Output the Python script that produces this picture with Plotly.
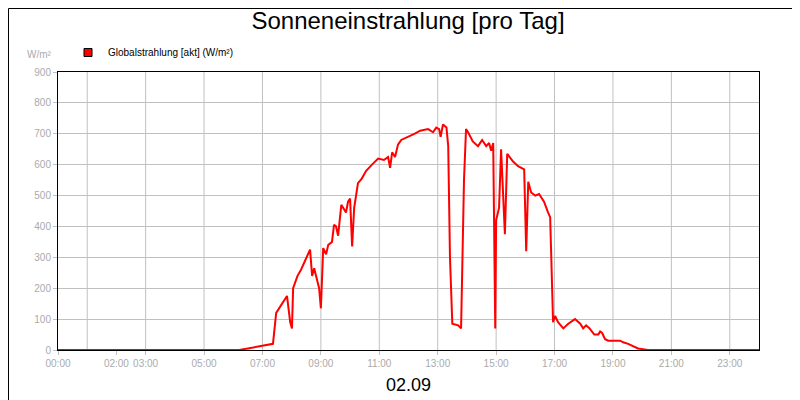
import plotly.graph_objects as go

hours = [0, 6.2, 6.5, 7.0, 7.26, 7.36, 7.47, 7.84, 7.95, 8.01, 8.05, 8.2, 8.32, 8.46, 8.63, 8.7, 8.77, 8.94, 9.0, 9.08,
         9.18, 9.25, 9.38, 9.45, 9.52, 9.59, 9.7, 9.86, 9.93, 10.0, 10.07, 10.14, 10.27, 10.4, 10.55, 10.75, 10.96,
         11.16, 11.3, 11.37, 11.44, 11.54, 11.64, 11.75, 12.0, 12.2, 12.4, 12.67, 12.84, 12.95, 13.05, 13.1, 13.18,
         13.3, 13.36, 13.42, 13.5, 13.7, 13.8, 13.9, 13.97, 14.04, 14.2, 14.38, 14.52, 14.66, 14.76, 14.83, 14.9,
         14.97, 15.0, 15.1, 15.17, 15.24, 15.3, 15.38, 15.58, 15.75, 15.96, 16.03, 16.1, 16.2, 16.34, 16.47, 16.64,
         16.78, 16.85, 16.95, 17.02, 17.12, 17.3, 17.47, 17.7, 17.88, 17.98, 18.08, 18.2, 18.36, 18.5, 18.56, 18.63,
         18.73, 18.84, 18.97, 19.25, 19.35, 19.52, 19.86, 20.2, 24.0]
values = [0, 0, 5, 15, 20, 20, 120, 175, 90, 70, 200, 240, 260, 290, 325, 240, 265, 200, 135, 330,
          310, 340, 350, 405, 400, 370, 470, 445, 480, 490, 335, 460, 540, 555, 580, 600, 620,
          615, 625, 590, 640, 625, 665, 680, 690, 700, 710, 715, 705, 720, 715, 690, 730,
          720, 660, 300, 85, 80, 70, 550, 715, 705, 675, 660, 680, 660, 670, 645, 670,
          70, 420, 460, 650, 470, 375, 635, 610, 595, 585, 320, 545, 510, 500, 505, 480,
          445, 430, 90, 110, 90, 70, 85, 100, 85, 70, 80, 70, 50, 50, 60, 55,
          35, 30, 30, 30, 25, 20, 5, 0, 0]
tick_vals = [0, 2, 3, 5, 7, 9, 11, 13, 15, 17, 19, 21, 23]
tick_text = ["00:00", "02:00", "03:00", "05:00", "07:00", "09:00", "11:00", "13:00", "15:00", "17:00", "19:00", "21:00", "23:00"]
series_name = "Globalstrahlung [akt] (W/m²)"

L, R, T, B = 50, 49, 64, 58
PW, PH = 800 - L - R, 400 - T - B

fig = go.Figure()
fig.add_trace(go.Scatter(x=hours, y=values, mode="lines", line=dict(color="#ff0000", width=2), showlegend=False))
fig.add_trace(go.Scatter(x=[None], y=[None], mode="markers", name=series_name,
                         marker=dict(symbol="square", color="#ff0000", size=8, line=dict(color="black", width=1))))
grid = "#c0c0c0"
fig.update_layout(
    width=800, height=400, margin=dict(l=L, r=R, t=T, b=B, autoexpand=False),
    paper_bgcolor="white", plot_bgcolor="white",
    font=dict(family="Liberation Sans, Arial", size=10, color="#aaaaaa"),
    title=dict(text="Sonneneinstrahlung [pro Tag]", x=0.5, xanchor="center", y=0.99, yanchor="top",
               font=dict(size=24, color="black")),
    showlegend=True,
    legend=dict(x=10 / PW, y=1 + 34 / PH, xanchor="left", yanchor="top", font=dict(size=10, color="black"),
                itemwidth=30, bgcolor="rgba(0,0,0,0)", tracegroupgap=0),
    xaxis=dict(range=[0, 24], tickvals=tick_vals, ticktext=tick_text, showgrid=False, automargin=False,
               showline=True, linecolor="black", mirror=True, ticks="outside", ticklen=4, tickcolor=grid,
               title=dict(text="02.09", font=dict(size=18, color="black"), standoff=10)),
    yaxis=dict(range=[0, 900], dtick=100, gridcolor=grid, showline=True, linecolor="black", mirror=True,
               automargin=False, ticks="outside", ticklen=4, tickcolor=grid, zeroline=False),
    shapes=[dict(type="line", xref="x", yref="paper", x0=h, x1=h, y0=0, y1=1, line=dict(color=grid, width=1),
                 layer="below") for h in range(1, 24, 2)] +
           [dict(type="rect", xref="paper", yref="paper", x0=-(L - 0.5) / PW, x1=1 + (R - 1) / PW,
                 y0=-(B - 1) / PH, y1=1 + (T - 0.5) / PH, line=dict(color="black", width=1))],
    annotations=[dict(text="W/m²", xref="paper", yref="paper", x=-0.005, y=1 + 10 / PH, xanchor="right",
                      yanchor="bottom", showarrow=False, font=dict(size=10, color="#aaaaaa"))],
)
fig.write_html("out.html")
